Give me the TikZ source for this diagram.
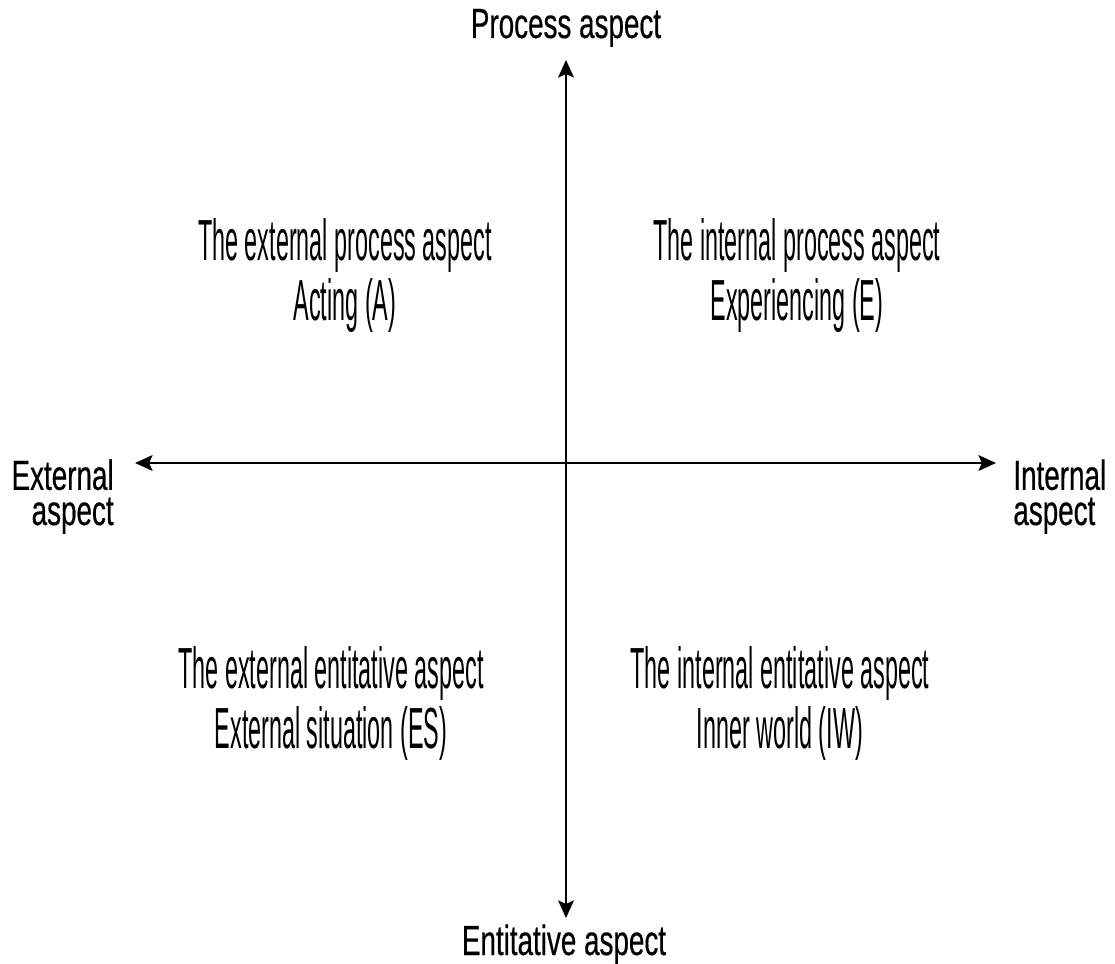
\documentclass[tikz,border=0pt]{standalone}
\usepackage{fontspec}
\setmainfont{Liberation Sans}
\newfontfamily\axisfont[FakeStretch=0.66,FakeBold=0.4]{Liberation Sans}
\newfontfamily\quadfont[FakeStretch=0.403]{Liberation Sans}
\usetikzlibrary{arrows.meta}

\begin{document}
\begin{tikzpicture}[x=0.02cm,y=-0.02cm,
    axis/.style={line width=1.1pt,{Stealth[length=10pt,width=9pt,inset=2pt]}-{Stealth[length=10pt,width=9pt,inset=2pt]}},
    lab/.style={font=\axisfont\fontsize{24}{20}\selectfont,inner sep=0pt},
    quad/.style={font=\quadfont\fontsize{33}{34}\selectfont,align=center,inner sep=0pt,anchor=base}]
      \useasboundingbox (0,0) rectangle (1115,963);
      \coordinate (top) at (566,60);
      \coordinate (bot) at (566,918);
      \coordinate (lft) at (135,463);
      \coordinate (rgt) at (996,463);
      \draw[axis] (bot) -- (top);
      \draw[axis] (lft) -- (rgt);
      \node[lab,anchor=base] (proc) at (566,38) {Process aspect};
      \node[lab,anchor=base] (enti) at (564,955) {Entitative aspect};
      \node[lab,anchor=base east,align=right] (ext) at (114,525) {External\\aspect};
      \node[lab,anchor=base west,align=left] (int) at (1013,525) {Internal\\aspect};
      \node[quad] (ep) at (345,320) {The external process aspect\\Acting (A)};
      \node[quad] (ip) at (797,320) {The internal process aspect\\Experiencing (E)};
      \node[quad] (ee) at (331,748) {The external entitative aspect\\External situation (ES)};
      \node[quad] (ie) at (780,748) {The internal entitative aspect\\Inner world (IW)};
    \end{tikzpicture}
\end{document}
